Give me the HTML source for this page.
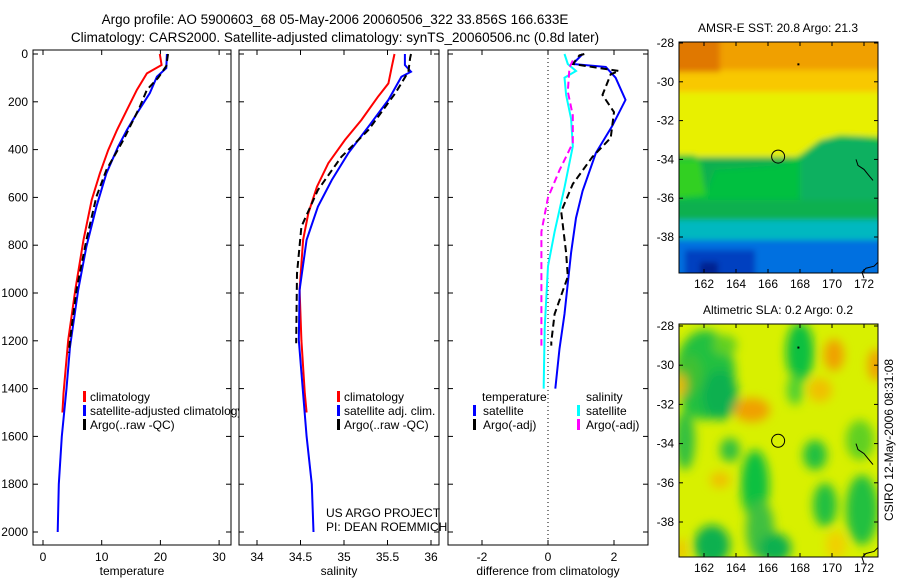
<!DOCTYPE html>
<html><head><meta charset="utf-8"><style>
body{margin:0;background:#fff}
svg{display:block;font-family:"Liberation Sans",sans-serif}
</style></head><body>
<svg id="s" width="900" height="580" viewBox="0 0 900 580">
<defs>
<filter id="bl" x="-50%" y="-50%" width="200%" height="200%"><feGaussianBlur stdDeviation="5"/></filter>
<filter id="bl2" x="-10%" y="-10%" width="120%" height="120%"><feGaussianBlur stdDeviation="3"/></filter>
<clipPath id="c1"><rect x="33" y="50" width="198" height="495"/></clipPath>
<clipPath id="c2"><rect x="239" y="50" width="200" height="495"/></clipPath>
<clipPath id="c3"><rect x="448" y="50" width="200" height="495"/></clipPath>
<clipPath id="m1"><rect x="679" y="42" width="199" height="231"/></clipPath>
<clipPath id="m2"><rect x="679" y="324" width="199" height="233"/></clipPath>
</defs>
<text x="335" y="24" font-size="13.5" text-anchor="middle">Argo profile: AO 5900603_68 05-May-2006 20060506_322 33.856S 166.633E</text>
<text x="335" y="42" font-size="13.5" text-anchor="middle">Climatology: CARS2000. Satellite-adjusted climatology: synTS_20060506.nc (0.8d later)</text>
<g id="g"></g>
</svg>
<script>
// ---- data ----
const depthTicks=[0,200,400,600,800,1000,1200,1400,1600,1800,2000];
const tempTicks=[0,10,20,30];
const salTicks=[34,34.5,35,35.5,36];
const diffTicks=[-2,0,2];
const tClimD=[0,46,81,150,234,318,402,499,611,778,987,1197,1420,1500];
const tClimV=[19.9,20.2,17.7,16.0,14.3,12.6,11.1,9.7,8.3,6.9,5.5,4.3,3.5,3.3];
const tSatD=[0,59,95,164,248,318,388,499,639,806,987,1225,1400,1600,1800,2000];
const tSatV=[21.1,21.0,19.4,18.2,16.0,14.3,12.8,10.8,9.1,7.4,6.0,4.6,4.0,3.2,2.7,2.5];
const tArgD=[0,50,100,150,220,360,485,597,778,987,1197,1250];
const tArgV=[21.3,21.0,19.6,17.7,16.5,13.7,10.8,9.1,7.4,5.7,4.6,4.4];
const sClimD=[0,53,123,179,276,360,457,555,667,778,987,1197,1420,1500];
const sClimV=[35.58,35.55,35.51,35.39,35.20,35.01,34.82,34.69,34.59,34.53,34.49,34.51,34.55,34.57];
const sSatD=[0,46,74,95,192,304,415,527,639,778,987,1197,1420,1600,1800,2000];
const sSatV=[35.70,35.70,35.77,35.66,35.51,35.28,35.05,34.86,34.70,34.57,34.49,34.48,34.53,34.57,34.63,34.65];
const sArgD=[0,17,74,164,318,430,569,722,918,1197,1210];
const sArgV=[35.77,35.76,35.74,35.59,35.28,34.97,34.70,34.51,34.46,34.45,34.45];
const dTSatD=[0,42,54,99,192,300,414,573,686,831,1088,1233,1389,1400];
const dTSatV=[1.05,0.75,1.75,2.05,2.35,1.95,1.45,1.05,0.85,0.7,0.5,0.35,0.23,0.22];
const dTArgD=[0,6,42,71,85,171,243,351,430,544,659,831,932,1088,1204,1220];
const dTArgV=[1.1,0.95,0.75,2.15,1.9,1.65,2.0,1.9,1.35,0.75,0.4,0.55,0.6,0.2,0.1,0.1];
const dSSatD=[0,42,71,99,171,271,386,558,744,888,1146,1389,1400];
const dSSatV=[0.5,0.6,0.85,0.5,0.55,0.7,0.75,0.5,0.2,0.0,-0.1,-0.13,-0.13];
const dSArgD=[27,56,157,257,372,486,601,744,945,1204,1220];
const dSArgV=[0.75,0.65,0.6,0.75,0.75,0.35,0.0,-0.2,-0.2,-0.2,-0.2];
const latTicks=[-28,-30,-32,-34,-36,-38];
const lonTicks=[162,164,166,168,170,172];
const argoLon=166.633, argoLat=-33.856;

// ---- helpers ----
const NS='http://www.w3.org/2000/svg';
const G=document.getElementById('g');
function mk(tag,at,parent){const e=document.createElementNS(NS,tag);for(const k in at)e.setAttribute(k,at[k]);(parent||G).appendChild(e);return e;}
const yD=d=>54+d*0.239;
const xT=v=>43+v*5.87;
const xS=v=>257+(v-34)*87;
const xDf=v=>548+v*33;

function panel(x0,w,name){
  const r=mk('rect',{x:x0,y:50,width:w,height:495,fill:'#fff',stroke:'#000','stroke-width':1});
  
  
}
function xticks(vals,fx,x0,w,labelName){
  vals.forEach(v=>{const x=fx(v);
    mk('line',{x1:x,x2:x,y1:50,y2:55,stroke:'#000'});
    mk('line',{x1:x,x2:x,y1:545,y2:540,stroke:'#000'});
    const t=mk('text',{x:x,y:561,'font-size':12,'text-anchor':'middle'});t.textContent=String(v);
    
    
  });
}
function yticks(x0,w){depthTicks.forEach(d=>{const y=yD(d);
  mk('line',{x1:x0,x2:x0+5,y1:y,y2:y,stroke:'#000'});
  mk('line',{x1:x0+w,x2:x0+w-5,y1:y,y2:y,stroke:'#000'});});}
function line(D,V,fx,color,dash,clip,name,sw){
  const p=D.map((d,i)=>fx(V[i]).toFixed(1)+','+yD(d).toFixed(1)).join(' ');
  const e=mk('polyline',{points:p,fill:'none',stroke:color,'stroke-width':sw||2,'clip-path':'url(#'+clip+')'});
  if(dash)e.setAttribute('stroke-dasharray',dash);
  
  
}
function txt(x,y,s,name,extra){const t=mk('text',Object.assign({x:x,y:y,'font-size':12},extra||{}));t.textContent=s;
  
  return t;}
function legMark(x,y,c){mk('rect',{x:x,y:y-10,width:3,height:11,fill:c});}

// ---- panel 1 ----
panel(33,198,'temperature-panel');
yticks(33,198);xticks(tempTicks,xT,33,198,'temp-tick-label');
depthTicks.forEach(d=>{txt(28,yD(d)+4,String(d),'depth-tick-label',{'text-anchor':'end'});});
line(tClimD,tClimV,xT,'#f00',null,'c1','temp-climatology-line');
line(tSatD,tSatV,xT,'#00f',null,'c1','temp-satellite-line');
line(tArgD,tArgV,xT,'#000','7,4','c1','temp-argo-line');
legMark(83,401,'#f00');legMark(83,415,'#00f');legMark(83,429,'#000');
txt(90,401,'climatology','legend-climatology');
txt(90,415,'satellite-adjusted climatology','legend-satellite-adjusted');
txt(90,429,'Argo(..raw -QC)','legend-argo');
txt(132,575,'temperature','x-axis-title-temperature',{'text-anchor':'middle'});
// ---- panel 2 ----
panel(239,200,'salinity-panel');
yticks(239,200);xticks(salTicks,xS,239,200,'sal-tick-label');
line(sClimD,sClimV,xS,'#f00',null,'c2','sal-climatology-line');
line(sSatD,sSatV,xS,'#00f',null,'c2','sal-satellite-line');
line(sArgD,sArgV,xS,'#000','7,4','c2','sal-argo-line');
legMark(337,401,'#f00');legMark(337,415,'#00f');legMark(337,429,'#000');
txt(344,401,'climatology','legend-sal-climatology');
txt(344,415,'satellite adj. clim.','legend-sal-satellite');
txt(344,429,'Argo(..raw -QC)','legend-sal-argo');
txt(326,517,'US ARGO PROJECT','credit-project');
txt(326,531,'PI: DEAN ROEMMICH','credit-pi');
txt(339,575,'salinity','x-axis-title-salinity',{'text-anchor':'middle'});
// ---- panel 3 ----
panel(448,200,'difference-panel');
yticks(448,200);xticks(diffTicks,xDf,448,200,'diff-tick-label');
mk('line',{x1:xDf(0),x2:xDf(0),y1:50,y2:545,stroke:'#000','stroke-dasharray':'1,3'});
line(dTSatD,dTSatV,xDf,'#00f',null,'c3','diff-temp-satellite-line');
line(dTArgD,dTArgV,xDf,'#000','7,4','c3','diff-temp-argo-line');
line(dSSatD,dSSatV,xDf,'#0ff',null,'c3','diff-sal-satellite-line');
line(dSArgD,dSArgV,xDf,'#f0f','7,4','c3','diff-sal-argo-line');
txt(482,401,'temperature','legend-temperature-heading');
txt(483,415,'satellite','legend-diff-temp-satellite');
txt(483,429,'Argo(-adj)','legend-diff-temp-argo');
txt(586,401,'salinity','legend-salinity-heading');
txt(586,415,'satellite','legend-diff-sal-satellite');
txt(586,429,'Argo(-adj)','legend-diff-sal-argo');
legMark(473,415,'#00f');legMark(473,429,'#000');legMark(577,415,'#0ff');legMark(577,429,'#f0f');
txt(548,575,'difference from climatology','x-axis-title-difference',{'text-anchor':'middle'});

// ---- maps ----
function mapAxes(y0,h,lat28,pxPerLat,title,name){
  const fx=l=>704+(l-162)*16, fy=l=>lat28+(-28-l)*pxPerLat;
  const r=mk('rect',{x:679,y:y0,width:199,height:h,fill:'none',stroke:'#000'});
  
  
  latTicks.forEach(l=>{const y=fy(l);mk('line',{x1:679,x2:683,y1:y,y2:y,stroke:'#000'});mk('line',{x1:878,x2:874,y1:y,y2:y,stroke:'#000'});
    txt(674,y+4,String(l),'lat-tick-label',{'text-anchor':'end'});});
  lonTicks.forEach(l=>{const x=fx(l);mk('line',{x1:x,x2:x,y1:y0,y2:y0+4,stroke:'#000'});mk('line',{x1:x,x2:x,y1:y0+h,y2:y0+h-4,stroke:'#000'});
    txt(x,y0+h+15,String(l),'lon-tick-label',{'text-anchor':'middle'});});
  txt(778,y0-10,title,name+'-title',{'text-anchor':'middle'});
  const c=mk('circle',{cx:fx(argoLon),cy:fy(argoLat),r:6.5,fill:'none',stroke:'#000'});
  
  
  mk('rect',{x:fx(167.9)-1,y:fy(-29.1)-1,width:2,height:2,fill:'#000'});
  mk('path',{d:`M${fx(171.5)} ${fy(-34)} l2 6 6 4 4 5 5 6 M878 ${fy(-39.3)} l-4 4 -8 2 -4 4 2 6`,fill:'none',stroke:'#000'});
}
// SST map
const M1=mk('g',{'clip-path':'url(#m1)'});


const M1b=mk('g',{filter:'url(#bl2)'},M1);
mk('rect',{x:660,y:30,width:240,height:260,fill:'#0070e0'},M1b);
mk('rect',{x:660,y:30,width:240,height:210,fill:'#00b8c0'},M1b);
mk('rect',{x:660,y:30,width:240,height:190,fill:'#10b050'},M1b);
mk('rect',{x:660,y:30,width:240,height:127,fill:'#e8f000'},M1b);
mk('rect',{x:660,y:30,width:240,height:62,fill:'#f8c800'},M1b);
mk('rect',{x:660,y:30,width:240,height:40,fill:'#f0a000'},M1b);
mk('rect',{x:660,y:30,width:60,height:42,fill:'#e07800'},M1b);
mk('polygon',{points:'660,155 695,155 705,195 715,170 780,165 800,155 820,140 840,135 900,138 900,200 660,200',fill:'#00c040'},M1b);
mk('polygon',{points:'800,160 825,140 860,138 900,150 900,200 800,200',fill:'#10b060'},M1b);
mk('polygon',{points:'660,160 700,160 706,195 660,200',fill:'#30d020'},M1b);
mk('rect',{x:685,y:250,width:70,height:30,fill:'#0040c0'},M1b);
mk('rect',{x:700,y:262,width:18,height:14,fill:'#002090'},M1b);
mapAxes(42,231,43,19.4,'AMSR-E SST: 20.8 Argo: 21.3','sst-map-frame');
// SLA map
const M2=mk('g',{'clip-path':'url(#m2)'});


mk('rect',{x:679,y:324,width:199,height:233,fill:'#d8f000'},M2);
const B=mk('g',{filter:'url(#bl)'},M2);
[[705,375,30,45,'#20c040'],[720,395,18,25,'#10b050'],[685,440,10,30,'#30c040'],[800,352,14,30,'#10c040'],[795,390,8,15,'#50d030'],
 [755,485,14,35,'#10c040'],[730,450,10,12,'#30c040'],[815,455,12,15,'#20c040'],[760,530,14,30,'#40c040'],
 [712,545,18,20,'#10b050'],[775,548,16,15,'#10b050'],[825,505,12,22,'#20c040'],[862,510,16,35,'#20c040'],[860,440,14,20,'#60d020'],
 [690,375,12,20,'#40c030'],[725,345,12,10,'#60d020']]
 .forEach(b=>mk('ellipse',{cx:b[0],cy:b[1],rx:b[2],ry:b[3],fill:b[4]},B));
[[752,410,18,12,'#f0a000'],[834,355,10,16,'#f0a000'],[876,365,8,16,'#f0a000'],[820,390,12,12,'#f0c000'],[720,480,10,8,'#f0c000'],[681,385,5,12,'#f0b000'],[681,550,5,12,'#f0c000'],[836,545,10,14,'#f0d000']]
 .forEach(b=>mk('ellipse',{cx:b[0],cy:b[1],rx:b[2],ry:b[3],fill:b[4]},B));
mapAxes(324,233,326,19.6,'Altimetric SLA: 0.2 Argo: 0.2','sla-map-frame');
txt(0,0,'CSIRO 12-May-2006 08:31:08','timestamp-label',{transform:'translate(893,440) rotate(-90)','text-anchor':'middle'});
</script>
</body></html>
